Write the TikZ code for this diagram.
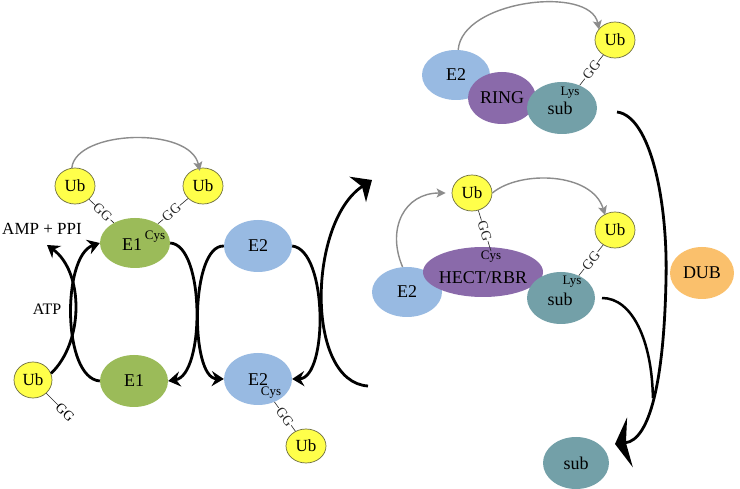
\documentclass[tikz,border=0pt]{standalone}
\usepackage{fontspec}
\setmainfont{Liberation Serif}
\usetikzlibrary{shapes.geometric,arrows.meta,calc}
\definecolor{ubY}{HTML}{FFFF4A}
\definecolor{ubO}{HTML}{6E6E40}
\definecolor{eoneG}{HTML}{9BBB59}
\definecolor{etwoB}{HTML}{98BAE2}
\definecolor{ligP}{HTML}{8A6AAA}
\definecolor{subT}{HTML}{73A0A8}
\definecolor{dubO}{HTML}{FAC06C}
\definecolor{arcG}{HTML}{8C8C8C}
\begin{document}
\begin{tikzpicture}[x=1pt,y=-1pt,
 base/.style={ellipse,inner sep=0pt,font=\fontsize{18}{20}\selectfont},
 ubn/.style={base,fill=ubY,draw=ubO,line width=0.7pt,minimum width=40pt,minimum height=36pt,font=\fontsize{17}{18}\selectfont},
 eone/.style={base,fill=eoneG},
 etwo/.style={base,fill=etwoB},
 ligase/.style={base,fill=ligP},
 subs/.style={base,fill=subT},
 dubn/.style={base,fill=dubO},
 txt/.style={inner sep=0pt,font=\fontsize{18}{20}\selectfont},
 smalltxt/.style={inner sep=0pt,font=\fontsize{13}{14}\selectfont},
 gg/.style={inner sep=0.6pt,fill=white,font=\fontsize{14}{15}\selectfont},
 ggline/.style={line width=0.6pt,black!85},
 grayarc/.style={draw=arcG,line width=1.4pt,-{Stealth[length=9pt,width=9pt,inset=2pt]}},
 blk/.style={line width=2.8pt,-{Stealth[length=12pt,width=15pt,inset=4pt]}},
]
\useasboundingbox[fill=white] (0,0) rectangle (740,489);

% ---------- left part ----------
\node[ubn] (ubA) at (75,186) {Ub};
\node[ubn] (ubB) at (203,186) {Ub};
\node[eone,minimum width=70pt,minimum height=50pt] (e1c) at (135,243) {};
\node[txt] (e1t) at (132,245) {E1};
\node[smalltxt] (e1cys) at (155,237) {Cys};
\node[eone,minimum width=68pt,minimum height=52pt] (e1) at (134,381) {E1};
\node[ubn,minimum width=38pt] (ubC) at (33,380) {Ub};
\node[etwo,minimum width=68pt,minimum height=52pt] (e2a) at (258,246) {E2};
\node[etwo,minimum width=68pt,minimum height=52pt] (e2c) at (258,379) {};
\node[txt] (e2ct) at (258,380) {E2};
\node[smalltxt] (e2cys) at (271,393) {Cys};
\node[ubn,minimum height=34pt] (ubD) at (306,446) {Ub};

\node[txt,font=\fontsize{17}{18}\selectfont] (amp) at (42,229) {AMP + PPI};
\node[txt,font=\fontsize{16}{18}\selectfont] (atp) at (47,309) {ATP};
\coordinate (ampTip) at (47,245);

% GG links
\draw[ggline] (ubA) -- (e1c) node[gg,pos=0.55,sloped] (ggA) {GG};
\draw[ggline] (ubB) -- (e1c) node[gg,pos=0.55,sloped] (ggB) {GG};
\node[inner sep=0pt,font=\fontsize{14}{15}\selectfont,rotate=-45] (ggC) at (65,412) {GG};
\draw[ggline] (ubC.-45) -- (ggC.west);
\draw[ggline] (e2c) -- (ubD) node[gg,midway,sloped] (ggD) {GG};

% gray arc
\draw[grayarc] (ubA.100) .. controls (76,130) and (190,126) .. ([yshift=-3pt]ubB.100);

% black arrows
\draw[blk] (ubC.20) .. controls (84,342) and (84,272) .. (ampTip);
\draw[blk] (e1.west) .. controls (62,378) and (62,256) .. (e1c.west);
\draw[blk] (e1c.east) .. controls (205,245) and (205,375) .. (e1.east);
\draw[blk] (e2a.west) .. controls (190,245) and (190,378) .. (e2c.west);
\draw[blk] (e2a.east) .. controls (328,250) and (328,378) .. (e2c.east);
\coordinate (bigS) at (368,386);
\coordinate (bigT) at (372,180);
\draw[line width=2.8pt,-{Stealth[length=17pt,width=30pt,inset=5pt]}] (bigS) .. controls (305,382) and (308,222) .. (bigT);

% ---------- top right (RING) ----------
\node[etwo,minimum width=68pt,minimum height=50pt] (e2r) at (456,75) {E2};
\node[ligase,minimum width=68pt,minimum height=52pt] (ring) at (502,98) {RING};
\node[subs,minimum width=70pt,minimum height=52pt] (subA) at (562,108) {};
\node[txt] (subAt) at (560,108) {sub};
\node[smalltxt] (lysA) at (570,93) {Lys};
\node[ubn] (ubE) at (615,40) {Ub};
\draw[ggline] (subA) -- (ubE) node[gg,midway,sloped] (ggE) {GG};
\draw[grayarc] (e2r.85) .. controls (462,0) and (590,-15) .. ([shift={(-1pt,-2pt)}]ubE.140);

% ---------- middle right (HECT/RBR) ----------
\node[etwo,minimum width=70pt,minimum height=50pt] (e2h) at (407,292) {E2};
\node[ligase,minimum width=120pt,minimum height=50pt] (hect) at (483,272) {};
\node[txt] (hectT) at (483,278) {HECT/RBR};
\node[smalltxt] (cysH) at (491,257) {Cys};
\node[subs,minimum width=68pt,minimum height=52pt] (subB) at (561,298) {};
\node[txt] (subBt) at (560,299) {sub};
\node[smalltxt] (lysB) at (572,282) {Lys};
\node[ubn] (ubF) at (472,193) {Ub};
\node[ubn] (ubG) at (615,230) {Ub};
\draw[ggline] (ubF.-70) -- (cysH.north) node[gg,midway,sloped] (ggF) {GG};
\draw[ggline] (subB) -- (ubG) node[gg,midway,sloped] (ggG) {GG};
\draw[grayarc] (e2h.100) .. controls (386,228) and (405,193) .. ([xshift=-6pt]ubF.west);
\draw[grayarc] (ubF.east) .. controls (520,170) and (592,172) .. ([shift={(-2pt,-2pt)}]ubG.115);

% ---------- DUB and free substrate ----------
\node[dubn,minimum width=64pt,minimum height=52pt] (dub) at (702,273) {DUB};
\node[subs,minimum width=66pt,minimum height=52pt] (subC) at (576,463) {sub};

\coordinate (sAs) at (617,112);
\coordinate (sBs) at (602,298);
\coordinate (midR) at (666,280);
\coordinate (merge) at (652.9,398);
\coordinate (bigT2) at (615,444);
\draw[line width=2.8pt,-{Stealth[length=15pt,width=50pt,inset=4pt]}] (sAs) .. controls (650,116) and (668,200) .. (midR) .. controls (664,380) and (650,440) .. (bigT2);
\draw[line width=2.5pt] (sBs) .. controls (632,298) and (652,340) .. (merge);
\end{tikzpicture}
\end{document}
